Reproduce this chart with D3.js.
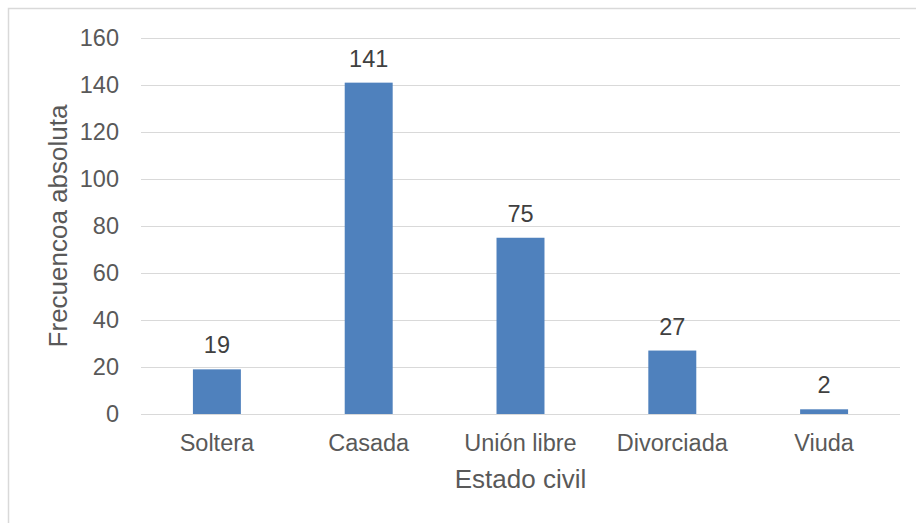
<!DOCTYPE html>
<html>
<head>
<meta charset="utf-8">
<script src="https://cdn.jsdelivr.net/npm/d3@7"></script>
<style>
  body { margin: 0; background: #fff; }
  text { font-family: "Liberation Sans", Arial, sans-serif; fill: #595959; }
</style>
</head>
<body>
<svg id="chart" width="916" height="523"></svg>
<script>
// data
const categories = ['Soltera', 'Casada', 'Unión libre', 'Divorciada', 'Viuda'];
const values = [19, 141, 75, 27, 2];
const yTicks = [0, 20, 40, 60, 80, 100, 120, 140, 160];

const svg = d3.select('#chart');

// outer chart border (only top/left visible in the crop)
svg.append('rect')
    .attr('x', 8.5).attr('y', 8.5)
    .attr('width', 940).attr('height', 560)
    .attr('fill', 'none')
    .attr('stroke', '#d9d9d9')
    .attr('stroke-width', 1.5);

const plotLeft = 141, plotRight = 900, plotTop = 38, plotBottom = 414;

const x = d3.scaleBand()
    .domain(categories)
    .range([plotLeft, plotRight])
    .paddingInner(0.684)
    .paddingOuter(0.342);

const y = d3.scaleLinear()
    .domain([0, 160])
    .range([plotBottom, plotTop]);

// gridlines
svg.append('g')
    .selectAll('line')
    .data(yTicks)
    .enter()
    .append('line')
    .attr('x1', plotLeft)
    .attr('x2', plotRight)
    .attr('y1', d => Math.round(y(d)) + 0.5)
    .attr('y2', d => Math.round(y(d)) + 0.5)
    .attr('stroke', '#d9d9d9')
    .attr('stroke-width', 1);

// y tick labels
svg.append('g')
    .selectAll('text')
    .data(yTicks)
    .enter()
    .append('text')
    .attr('x', 119)
    .attr('y', d => y(d))
    .attr('dy', '0.36em')
    .attr('text-anchor', 'end')
    .style('font-size', '23.5px')
    .text(d => d);

// bars
svg.append('g')
    .selectAll('rect')
    .data(values)
    .enter()
    .append('rect')
    .attr('x', (d, i) => x(categories[i]))
    .attr('y', d => y(d))
    .attr('width', x.bandwidth())
    .attr('height', d => y(0) - y(d))
    .attr('fill', '#4f81bd');

// value labels
svg.append('g')
    .selectAll('text')
    .data(values)
    .enter()
    .append('text')
    .attr('x', (d, i) => x(categories[i]) + x.bandwidth() / 2)
    .attr('y', d => y(d) - 16)
    .attr('text-anchor', 'middle')
    .style('font-size', '23.5px')
    .style('fill', '#404040')
    .text(d => d);

// x category labels
svg.append('g')
    .selectAll('text')
    .data(categories)
    .enter()
    .append('text')
    .attr('x', d => x(d) + x.bandwidth() / 2)
    .attr('y', 451)
    .attr('text-anchor', 'middle')
    .style('font-size', '23.5px')
    .text(d => d);

// axis titles
svg.append('text')
    .attr('x', (plotLeft + plotRight) / 2)
    .attr('y', 488)
    .attr('text-anchor', 'middle')
    .style('font-size', '26px')
    .text('Estado civil');

svg.append('text')
    .attr('transform', `translate(67, ${(plotTop + plotBottom) / 2}) rotate(-90)`)
    .attr('text-anchor', 'middle')
    .style('font-size', '26px')
    .text('Frecuencoa absoluta');
</script>
</body>
</html>
